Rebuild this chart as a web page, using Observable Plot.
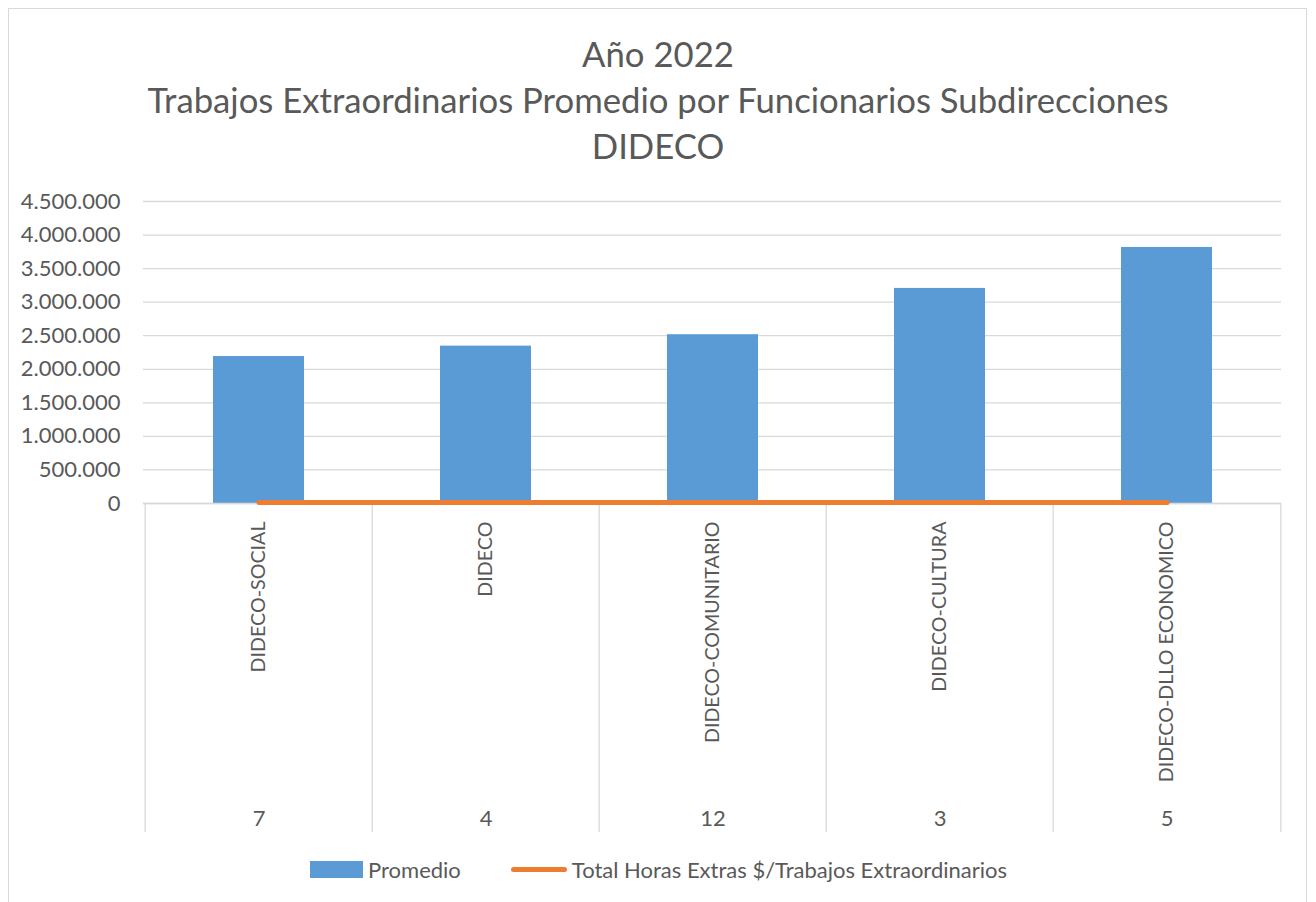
<!DOCTYPE html>
<html>
<head>
<meta charset="utf-8">
<script src="https://cdn.jsdelivr.net/npm/d3@7"></script>
<script src="https://cdn.jsdelivr.net/npm/@observablehq/plot@0.6"></script>
<style>
  body { margin: 0; background: #fff; font-family: Lato, "Open Sans", sans-serif; color: #595959; }
  #frame { position: absolute; left: 8px; top: 8px; width: 1299px; height: 900px; border: 1px solid #d9d9d9; box-sizing: border-box; }
  #title { position: absolute; left: 0; top: 31px; width: 1316px; text-align: center; font-size: 34.7px; line-height: 46px; color: #595959; }
  #chart { position: absolute; left: 0; top: 180px; }
  #legend { position: absolute; top: 856px; left: 310px; font-size: 22px; color: #595959; display: flex; align-items: center; }
  .sw-bar { display: inline-block; width: 53px; height: 17px; background: #5B9BD5; margin-right: 5px; }
  .sw-line { display: inline-block; width: 56px; height: 5px; border-radius: 3px; background: #ED7D31; margin-right: 5px; margin-left: 50px; }
</style>
</head>
<body>
<div id="frame"></div>
<div id="title">Año 2022<br>Trabajos Extraordinarios Promedio por Funcionarios Subdirecciones<br>DIDECO</div>
<div id="chart"></div>
<div id="legend"><span class="sw-bar"></span><span>Promedio</span><span class="sw-line"></span><span>Total Horas Extras $/Trabajos Extraordinarios</span></div>
<script>
const categories = ["DIDECO-SOCIAL", "DIDECO", "DIDECO-COMUNITARIO", "DIDECO-CULTURA", "DIDECO-DLLO ECONOMICO"];
const funcionarios = [7, 4, 12, 3, 5];
const promedio = [2190000, 2345000, 2515000, 3205000, 3815000];
const totalHoras = [0, 0, 0, 0, 0];
const yTicks = [0, 500000, 1000000, 1500000, 2000000, 2500000, 3000000, 3500000, 4000000, 4500000];

const data = categories.map((c, i) => ({cat: c, n: funcionarios[i], promedio: promedio[i], total: totalHoras[i]}));
const fmt = d => d3.format(",")(d).replace(/,/g, ".");
const W = 1316, ML = 143, MR = 35;
const bw = (W - ML - MR) / categories.length;

const chart = Plot.plot({
  width: W,
  height: 660,
  marginLeft: ML,
  marginRight: MR,
  marginTop: 21,
  marginBottom: 337,
  style: {fontFamily: "Lato, 'Open Sans', sans-serif", fontSize: "21px", color: "#595959", background: "transparent"},
  x: {domain: categories, padding: 0, axis: null, label: null},
  y: {domain: [0, 4500000], axis: null, label: null},
  marks: [
    Plot.gridY(yTicks, {stroke: "#d9d9d9", strokeOpacity: 1, strokeWidth: 1.3}),
    Plot.axisY(yTicks, {tickSize: 0, tickPadding: 23, tickFormat: fmt, fill: "#595959", fontSize: 22, label: null}),
    Plot.axisX(categories, {tickSize: 329, dx: -bw / 2, text: null, label: null, stroke: "#d9d9d9", strokeOpacity: 1, strokeWidth: 1.3}),
    Plot.axisX(categories.slice(-1), {tickSize: 329, dx: bw / 2, text: null, label: null, stroke: "#d9d9d9", strokeOpacity: 1, strokeWidth: 1.3}),
    Plot.axisX(categories, {tickSize: 0, tickPadding: 18, tickRotate: -90, label: null, fill: "#595959", fontSize: 19.7}),
    Plot.axisX(categories, {tickSize: 0, tickPadding: 307, label: null, tickFormat: d => funcionarios[categories.indexOf(d)], fill: "#595959", fontSize: 22}),
    Plot.barY(data, {x: "cat", y: "promedio", fill: "#5B9BD5", insetLeft: 68, insetRight: 68}),
    Plot.ruleY([0], {stroke: "#d9d9d9", strokeWidth: 1.3}),
    Plot.lineY(data, {x: "cat", y: "total", stroke: "#ED7D31", strokeWidth: 5, strokeLinecap: "round", dy: -1})
  ]
});
document.getElementById("chart").appendChild(chart);
</script>
</body>
</html>
